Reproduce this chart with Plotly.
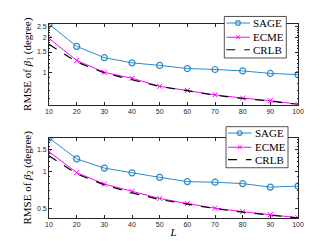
import numpy as np
import plotly.graph_objects as go

L = [10, 20, 30, 40, 50, 60, 70, 80, 90, 100]
sage1 = [2.61, 1.68, 1.34, 1.21, 1.15, 1.08, 1.06, 1.03, 0.98, 0.956]
ecme1 = [1.97, 1.27, 1.00, 0.89, 0.758, 0.70, 0.64, 0.60, 0.57, 0.53]
crlb1 = [1.75, 1.23, 0.99, 0.87, 0.755, 0.695, 0.635, 0.595, 0.565, 0.528]
sage2 = [1.86, 1.26, 1.06, 0.97, 0.892, 0.824, 0.815, 0.794, 0.744, 0.758]
ecme2 = [1.437, 0.976, 0.786, 0.687, 0.602, 0.547, 0.502, 0.47, 0.445, 0.42]
crlb2 = [1.336, 0.952, 0.776, 0.668, 0.59, 0.543, 0.498, 0.466, 0.441, 0.418]
yticks1 = [1, 1.5, 2, 2.5]
yticks2 = [0.5, 1, 1.5]
xticks = L
names = ["SAGE", "ECME", "CRLB"]

BLUE = "#2B8ACB"
MAG = "#FF00FF"
SERIF = "Liberation Serif, Times New Roman, serif"
AX = "#262626"

W, H = 321, 241
ML, MR, MT, MB = 41, 31, 16, 27
PW, PH = W - ML - MR, H - MT - MB

def px(x):
    return (x - ML) / PW

def py(y):
    return (H - MB - y) / PH

fig = go.Figure()

def add_set(sage, ecme, crlb, xa, ya):
    fig.add_trace(go.Scatter(x=L, y=sage, name=names[0], mode="lines+markers",
                             line=dict(color=BLUE, width=1),
                             marker=dict(symbol="circle-open", size=6, color=BLUE, line=dict(width=1.2)),
                             xaxis=xa, yaxis=ya, showlegend=False))
    fig.add_trace(go.Scatter(x=L, y=ecme, name=names[1], mode="lines+markers",
                             line=dict(color=MAG, width=1),
                             marker=dict(symbol="x-thin-open", size=5, color=MAG, line=dict(width=1, color=MAG)),
                             xaxis=xa, yaxis=ya, showlegend=False))
    fig.add_trace(go.Scatter(x=L, y=crlb, name=names[2], mode="lines",
                             line=dict(color="black", width=1.2, dash="dash"),
                             xaxis=xa, yaxis=ya, showlegend=False))

add_set(sage1, ecme1, crlb1, "x", "y")
add_set(sage2, ecme2, crlb2, "x2", "y2")

shapes = []
annotations = []

def legend_box(x0, x1, y0, y1, rows):
    shapes.append(dict(type="rect", xref="paper", yref="paper",
                       x0=px(x0), x1=px(x1), y0=py(y0), y1=py(y1),
                       line=dict(color=AX, width=0.8), fillcolor="white", layer="above"))
    styles = [dict(color=BLUE, width=1, dash="solid"),
              dict(color=MAG, width=1, dash="solid"),
              dict(color="black", width=1.2, dash="dash")]
    lx0, lx1, mx = x0 + 2, x0 + 25.5, x0 + 13.7
    for i, (ry, nm) in enumerate(zip(rows, names)):
        shapes.append(dict(type="line", xref="paper", yref="paper",
                           x0=px(lx0), x1=px(lx1), y0=py(ry), y1=py(ry),
                           line=styles[i], layer="above"))
        if i == 0:
            r = 2.4
            shapes.append(dict(type="circle", xref="paper", yref="paper",
                               x0=px(mx - r), x1=px(mx + r), y0=py(ry - r), y1=py(ry + r),
                               line=dict(color=BLUE, width=1.1), fillcolor="rgba(0,0,0,0)", layer="above"))
        elif i == 1:
            r = 1.8
            for s in (1, -1):
                shapes.append(dict(type="line", xref="paper", yref="paper",
                                   x0=px(mx - r), x1=px(mx + r), y0=py(ry - s * r), y1=py(ry + s * r),
                                   line=dict(color=MAG, width=1), layer="above"))
        annotations.append(dict(text=nm, xref="paper", yref="paper", x=px(x0 + 26.5), y=py(ry),
                                xanchor="left", yanchor="middle", showarrow=False,
                                font=dict(family=SERIF, size=11, color="black")))

legend_box(216.3, 278.3, 8.3, 50.7, [15.0, 29.5, 42.3])
legend_box(218.0, 280.0, 120.8, 162.7, [127.3, 141.8, 154.5])

axcommon = dict(showline=True, linecolor=AX, linewidth=0.8, mirror="ticks",
                ticks="inside", ticklen=3, tickcolor=AX, showgrid=False, zeroline=False,
                tickfont=dict(family="Liberation Sans, Arial", size=7, color=AX))

minor1 = [round(v, 1) for v in np.arange(0.6, 2.61, 0.1) if round(v, 1) not in yticks1]
minor2 = [round(v, 1) for v in np.arange(0.5, 1.81, 0.1) if round(v, 1) not in yticks2]

fig.update_layout(
    width=W, height=H,
    margin=dict(l=ML, r=MR, t=MT, b=MB),
    plot_bgcolor="white", paper_bgcolor="white",
    showlegend=False,
    xaxis=dict(domain=[0, 1], range=[10, 100], tickvals=xticks, anchor="y", **axcommon),
    yaxis=dict(domain=[0.585, 1], type="log", range=[np.log10(0.528), np.log10(2.62)],
               tickvals=yticks1, ticktext=[str(v) for v in yticks1], anchor="x",
               minor=dict(tickvals=minor1, ticks="inside", ticklen=1.5, tickcolor=AX),
               title=dict(text="RMSE of <i>β</i><sub>1</sub> (degree)", font=dict(family=SERIF, size=11, color="black"), standoff=3),
               **axcommon),
    xaxis2=dict(domain=[0, 1], range=[10, 100], tickvals=xticks, anchor="y2",
                title=dict(text="<i>L</i>", font=dict(family=SERIF, size=11, color="black"), standoff=1),
                **axcommon),
    yaxis2=dict(domain=[0, 0.414], type="log", range=[np.log10(0.418), np.log10(1.87)],
                tickvals=yticks2, ticktext=[str(v) for v in yticks2], anchor="x2",
                minor=dict(tickvals=minor2, ticks="inside", ticklen=1.5, tickcolor=AX),
                title=dict(text="RMSE of <i>β</i><sub>2</sub> (degree)", font=dict(family=SERIF, size=11, color="black"), standoff=3),
                **axcommon),
    shapes=shapes,
    annotations=annotations,
)

fig.write_html("out.html")
